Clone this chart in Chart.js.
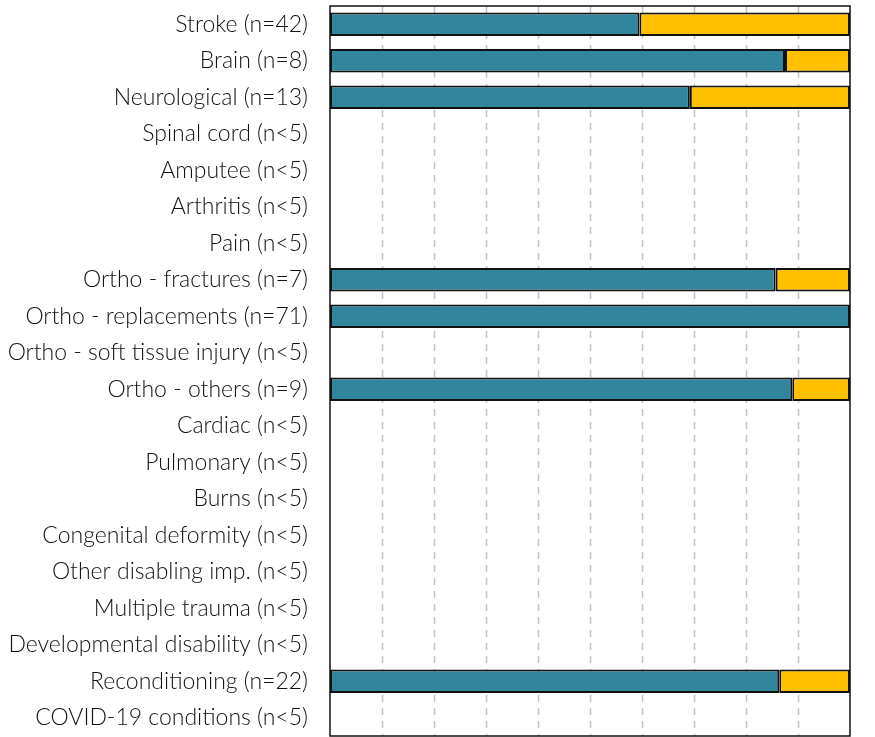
<!DOCTYPE html>
<html>
<head>
<meta charset="utf-8">
<script src="https://cdn.jsdelivr.net/npm/chart.js@4"></script>
<style>
  html, body { margin: 0; padding: 0; background: #fff; }
  #wrap { width: 875px; height: 737px; }
</style>
</head>
<body>
<div id="wrap"><canvas id="chart_bars"></canvas></div>
<script>
// categorias (eje Y)
var categorias = [
	"Stroke (n=42)", "Brain (n=8)", "Neurological (n=13)", "Spinal cord (n<5)",
	"Amputee (n<5)", "Arthritis (n<5)", "Pain (n<5)", "Ortho - fractures (n=7)",
	"Ortho - replacements (n=71)", "Ortho - soft tissue injury (n<5)", "Ortho - others (n=9)",
	"Cardiac (n<5)", "Pulmonary (n<5)", "Burns (n<5)", "Congenital deformity (n<5)",
	"Other disabling imp. (n<5)", "Multiple trauma (n<5)", "Developmental disability (n<5)",
	"Reconditioning (n=22)", "COVID-19 conditions (n<5)"
];
// porcentajes
var serieAzul = [59.5, 87.5, 69.2, null, null, null, null, 85.7, 100, null, 88.9,
	null, null, null, null, null, null, null, 86.4, null];
var serieAmarilla = [40.5, 12.5, 30.8, null, null, null, null, 14.3, 0, null, 11.1,
	null, null, null, null, null, null, null, 13.6, null];
var escalaMax = 100;
var escalaPaso = 10;

var ctx = document.getElementById('chart_bars').getContext('2d');
var chart = new Chart(ctx, {
	type: 'bar',
	data: {
		labels: categorias,
		datasets: [{
			data: serieAzul,
			backgroundColor: '#31859C',
			borderColor: '#111',
			borderWidth: 2,
			borderSkipped: false,
			categoryPercentage: 1,
			barPercentage: 0.64
		}, {
			data: serieAmarilla,
			backgroundColor: '#FFC000',
			borderColor: '#111',
			borderWidth: 2,
			borderSkipped: false,
			categoryPercentage: 1,
			barPercentage: 0.64
		}]
	},
	options: {
		indexAxis: 'y',
		responsive: true,
		maintainAspectRatio: false,
		animation: false,
		layout: { padding: { left: 0, right: 25, top: 6, bottom: 1 } },
		plugins: {
			legend: { display: false },
			tooltip: { enabled: false }
		},
		scales: {
			x: {
				stacked: true,
				min: 0,
				max: escalaMax,
				ticks: { display: false, stepSize: escalaPaso },
				grid: { display: false, drawTicks: false },
				border: { display: false },
				afterFit: function (scale) {
					scale.height = 0;
					scale.paddingLeft = 0;
					scale.paddingRight = 0;
				}
			},
			y: {
				stacked: true,
				ticks: {
					color: '#111',
					padding: 22,
					font: { family: 'Lato', size: 23, weight: '300' }
				},
				grid: { display: false, drawTicks: false },
				border: { display: false },
				afterFit: function (scale) {
					scale.width = 330;
					scale.paddingTop = 0;
					scale.paddingBottom = 0;
				}
			}
		}
	},
	plugins: [{
		// marco negro y rejilla discontinua
		id: 'marco',
		beforeDatasetsDraw: function (c) {
			var a = c.chartArea, g = c.ctx, x = c.scales.x;
			g.save();
			g.strokeStyle = '#c4c4c4';
			g.lineWidth = 1.5;
			g.setLineDash([7, 6]);
			for (var v = escalaPaso; v < escalaMax; v += escalaPaso) {
				var px = Math.round(x.getPixelForValue(v)) + 0.5;
				g.beginPath();
				g.moveTo(px, a.top);
				g.lineTo(px, a.bottom);
				g.stroke();
			}
			g.restore();
		},
		afterDatasetsDraw: function (c) {
			var a = c.chartArea, g = c.ctx;
			g.save();
			g.strokeStyle = '#111';
			g.lineWidth = 1.5;
			g.strokeRect(a.left, a.top, a.right - a.left, a.bottom - a.top);
			g.restore();
		}
	}]
});
</script>
</body>
</html>
